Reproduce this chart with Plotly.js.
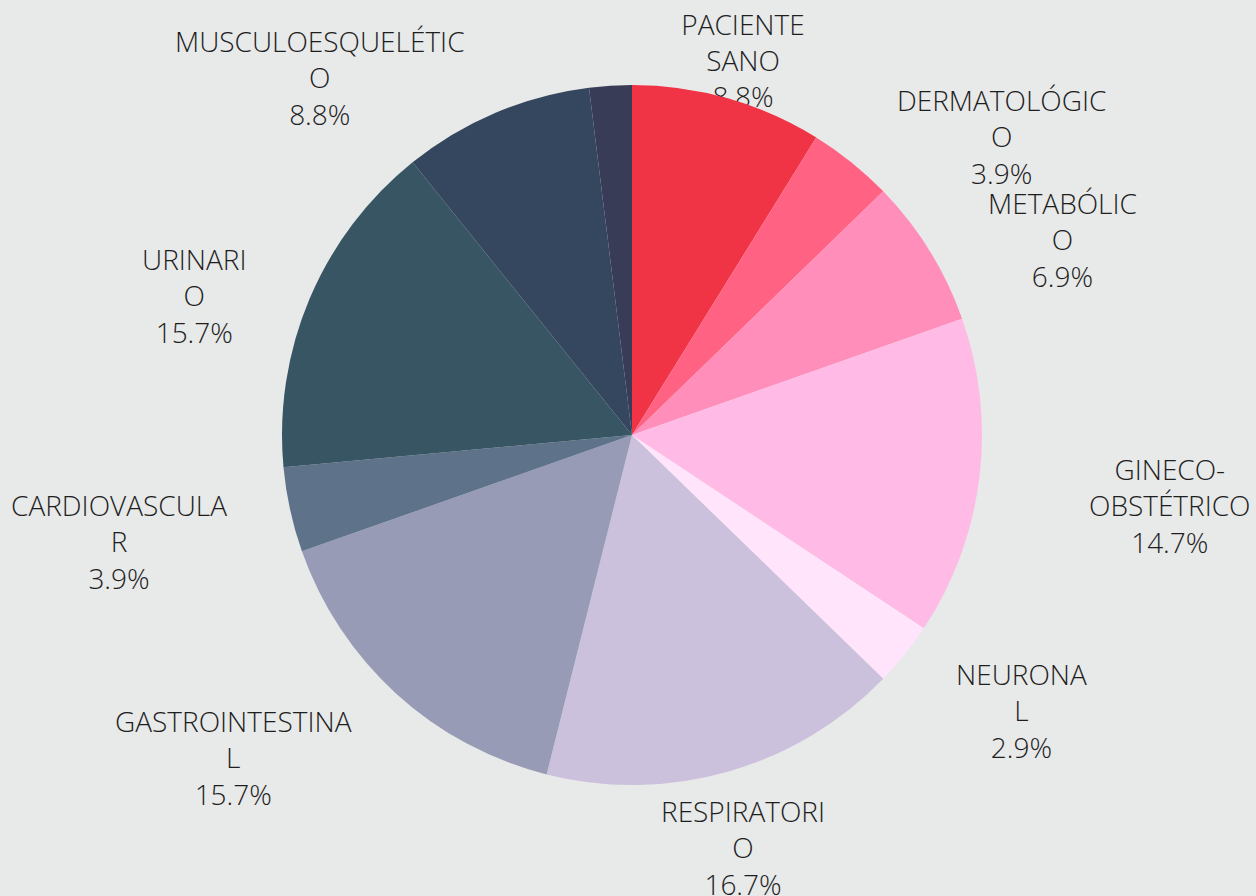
<!DOCTYPE html>
<html>
<head>
<meta charset="utf-8">
<script src="https://cdn.plot.ly/plotly-3.0.1.min.js"></script>
<style>
  html, body { margin: 0; padding: 0; background: #e8e9e9; }
  #chart { width: 1256px; height: 896px; }
</style>
</head>
<body>
<div id="chart"></div>
<script>
// ---- data ----
const categories = ["PACIENTE SANO", "DERMATOLÓGICO", "METABÓLICO", "GINECO-OBSTÉTRICO", "NEURONAL",
  "RESPIRATORIO", "GASTROINTESTINAL", "CARDIOVASCULAR", "URINARIO", "MUSCULOESQUELÉTICO", "OTROS"];
const values = [9, 4, 7, 15, 3, 17, 16, 4, 16, 9, 2];
const wrappedLabels = ["PACIENTE<br>SANO", "DERMATOLÓGIC<br>O", "METABÓLIC<br>O", "GINECO-<br>OBSTÉTRICO",
  "NEURONA<br>L", "RESPIRATORI<br>O", "GASTROINTESTINA<br>L", "CARDIOVASCULA<br>R", "URINARI<br>O",
  "MUSCULOESQUELÉTIC<br>O", ""];

// ---- style ----
const colors = ["#F03446", "#FF6282", "#FF8EBB", "#FFBBE5", "#FFE4FC", "#CBC1DC",
  "#979BB5", "#5E7389", "#375563", "#35475E", "#383C57"];
const W = 1256, H = 896;
const cx = 632, cy = 435, R = 350;
// label block centres (pixels)
const labelAt = [[743, 62], [1001, 136], [1062, 240], [1170, 505], [1021, 710],
  [743, 847], [234, 757], [119, 541], [194, 295], [320, 78], null];
const labelFont = { family: "Open Sans", size: 28, color: "#1e1e1e", weight: 300 };

const total = values.reduce((a, b) => a + b, 0);
const annotations = [];
const shapes = [];
categories.forEach((c, i) => {
  if (!labelAt[i] || !wrappedLabels[i]) return;
  const pct = (values[i] / total * 100).toFixed(1) + "%";
  const txt = wrappedLabels[i] + "<br>" + pct;
  const x = labelAt[i][0] / W, y = 1 - labelAt[i][1] / H;
  if (i === 0) {
    // this label sits partly behind the pie, so it is drawn beneath the trace
    shapes.push({
      type: "rect", xref: "paper", yref: "paper", layer: "below",
      x0: x - 0.05, x1: x + 0.05, y0: y - 0.05, y1: y + 0.05,
      line: { width: 0 }, fillcolor: "rgba(0,0,0,0)",
      label: { text: txt, textposition: "middle center", font: labelFont }
    });
  } else {
    annotations.push({
      xref: "paper", yref: "paper", x: x, y: y,
      xanchor: "center", yanchor: "middle",
      text: txt, showarrow: false, align: "center", font: labelFont
    });
  }
});

const trace = {
  type: "pie",
  labels: categories,
  values: values,
  sort: false,
  direction: "clockwise",
  rotation: 0,
  textinfo: "none",
  marker: { colors: colors, line: { width: 0 } },
  domain: { x: [(cx - R) / W, (cx + R) / W], y: [1 - (cy + R) / H, 1 - (cy - R) / H] },
  hoverinfo: "label+percent"
};

const layout = {
  width: W, height: H,
  margin: { l: 0, r: 0, t: 0, b: 0 },
  paper_bgcolor: "#e8e9e9",
  plot_bgcolor: "#e8e9e9",
  showlegend: false,
  annotations: annotations,
  shapes: shapes
};

Plotly.newPlot("chart", [trace], layout, { displayModeBar: false });
</script>
</body>
</html>
